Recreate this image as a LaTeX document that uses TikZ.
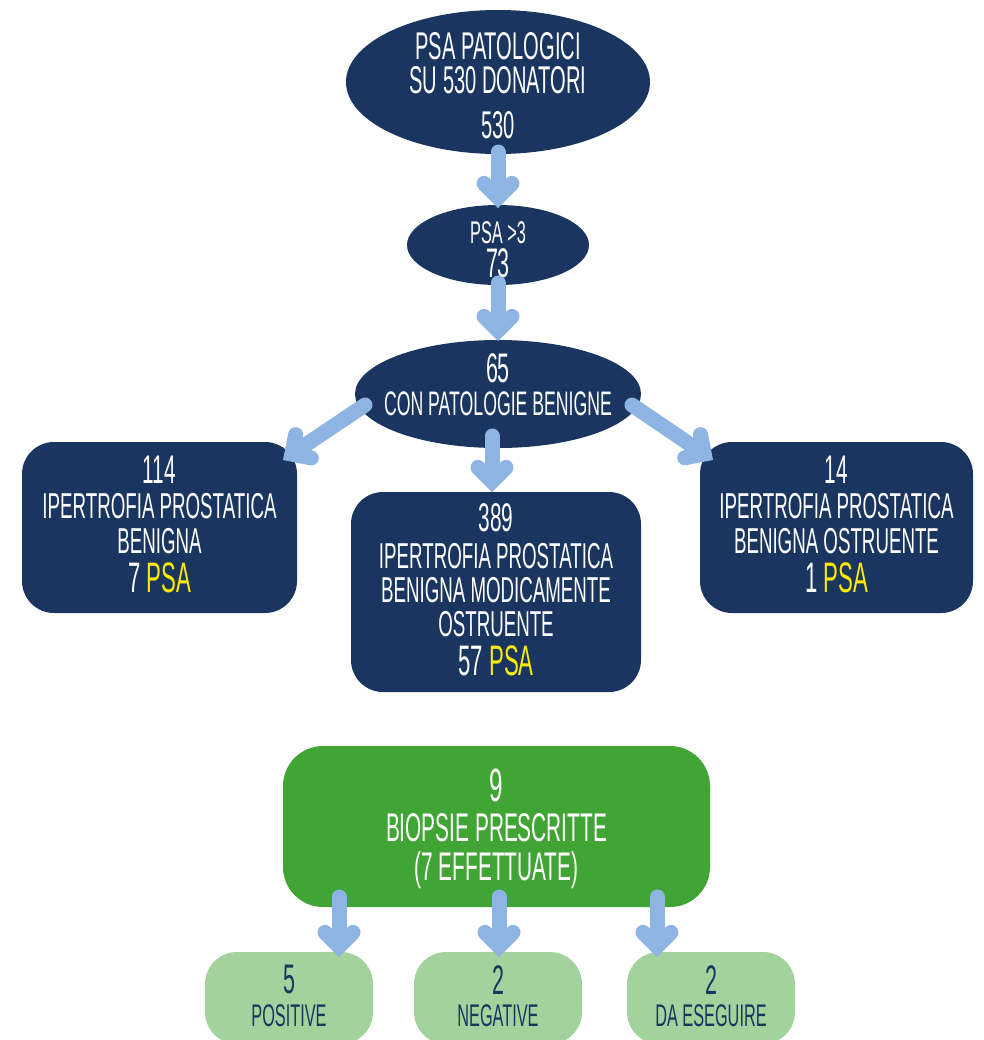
\documentclass[tikz,border=0pt]{standalone}
\usepackage{fontspec}
\setmainfont{Liberation Sans}[FakeStretch=0.52]
\usetikzlibrary{arrows.meta,shapes.geometric,calc}
\definecolor{navy}{HTML}{1A3560}
\definecolor{arrowc}{HTML}{8DB4E2}
\definecolor{ylw}{HTML}{FFEB00}
\definecolor{grn}{HTML}{41A535}
\definecolor{lgrn}{HTML}{A2D39C}
\tikzset{
  oval/.style={ellipse, fill=navy, draw=none, inner sep=0pt, outer sep=0pt},
  navybox/.style={rectangle, rounded corners=24pt, fill=navy, draw=none, inner sep=0pt, outer sep=0pt, minimum height=128.25pt},
  greenbox/.style={rectangle, rounded corners=30pt, fill=grn, draw=none, inner sep=0pt, outer sep=0pt, minimum width=320.25pt, minimum height=120.75pt},
  lightbox/.style={rectangle, rounded corners=24pt, fill=lgrn, draw=none, inner sep=0pt, outer sep=0pt, minimum width=126pt, minimum height=69pt},
  txt/.style={inner sep=0pt, outer sep=0pt, align=center, anchor=north, text=white},
  dtxt/.style={txt, text=navy},
  arr/.style={line width=11.25pt, draw=arrowc, line cap=round,
    -{Straight Barb[length=10.5pt, width=21pt, line cap=round, line join=miter]}}
}
\begin{document}
\begin{tikzpicture}[x=0.75pt,y=-0.75pt]
\useasboundingbox (0,0) rectangle (983,1040);
% shapes
\node[oval, minimum width=228pt, minimum height=108pt] (e1) at (498,82) {};
\node[oval, minimum width=136.5pt, minimum height=60pt] (e2) at (498,245) {};
\node[oval, minimum width=214.5pt, minimum height=81pt] (e3) at (498,394) {};
\node[navybox, minimum width=206.25pt] (b1) at (159.5,527.5) {};
\node[navybox, minimum width=217.5pt, minimum height=150pt] (b2) at (496,592) {};
\node[navybox, minimum width=204.75pt] (b3) at (836.5,527.5) {};
\node[greenbox] (g) at (496.5,826.5) {};
\node[lightbox] (s1) at (289,998) {};
\node[lightbox] (s2) at (498,998) {};
\node[lightbox] (s3) at (711,998) {};
% texts
\node[txt, font=\fontsize{29}{25.5}\selectfont] (e1t) at (498,32.2)
  {PSA PATOLOGICI\\SU 530 DONATORI\\[8.25pt]530};
\node[txt, font=\fontsize{23.5}{25.2}\selectfont] (e2t) at (498,221.8)
  {PSA >3\\{\fontsize{31}{31}\selectfont 73}};
\node[txt, font=\fontsize{25.5}{25}\selectfont] (e3t) at (498,353.2)
  {{\fontsize{31}{31}\selectfont 65}\\CON PATOLOGIE BENIGNE};
\node[txt, font=\fontsize{27}{26.5}\selectfont] (b1t) at (159.5,455.7)
  {{\fontsize{30}{30}\selectfont 114}\\[0.2pt]IPERTROFIA PROSTATICA\\[-0.25pt]BENIGNA\\[2.3pt]{\fontsize{32}{32}\selectfont 7 \textcolor{ylw}{PSA}}};
\node[txt, font=\fontsize{27}{25.5}\selectfont] (b2t) at (496,503.7)
  {{\fontsize{30}{30}\selectfont 389}\\[1.95pt]IPERTROFIA PROSTATICA\\BENIGNA MODICAMENTE\\OSTRUENTE\\[4.05pt]{\fontsize{32}{32}\selectfont 57 \textcolor{ylw}{PSA}}};
\node[txt, font=\fontsize{27}{26.5}\selectfont] (b3t) at (836.5,455.7)
  {{\fontsize{30}{30}\selectfont 14}\\[0.2pt]IPERTROFIA PROSTATICA\\[-0.25pt]BENIGNA OSTRUENTE\\[2.3pt]{\fontsize{32}{32}\selectfont 1 \textcolor{ylw}{PSA}}};
\node[txt, font=\fontsize{30}{29.25}\selectfont] (gt) at (496.5,769.3)
  {{\fontsize{35}{35}\selectfont 9}\\[0.45pt]BIOPSIE PRESCRITTE\\(7 EFFETTUATE)};
\node[dtxt, font=\fontsize{23.5}{24.3}\selectfont] (s1t) at (289,965.2)
  {{\fontsize{31}{31}\selectfont 5}\\POSITIVE};
\node[dtxt, font=\fontsize{23.5}{24.3}\selectfont] (s2t) at (498,965.2)
  {{\fontsize{31}{31}\selectfont 2}\\NEGATIVE};
\node[dtxt, font=\fontsize{23.5}{24.3}\selectfont] (s3t) at (711,965.2)
  {{\fontsize{31}{31}\selectfont 2}\\DA ESEGUIRE};
% connectors
\draw[arr] ($(e1.south)+(0,-2)$) -- ($(e2.north)+(0,3)$);
\draw[arr] ($(e2.south)+(0,-2)$) -- ($(e3.north)+(0,1)$);
\draw[arr] ($(e3.center)+(-133,11)$) -- ($(b1.north east)+(-14,18)$);
\draw[arr] ($(e3.south)+(-6,-12)$) -- ($(b2.north)+(-4,0)$);
\draw[arr] ($(e3.center)+(134,11)$) -- ($(b3.north west)+(13,18)$);
\draw[arr] ($(g.south)+(-157.5,-10)$) -- ($(s1.north)+(50,5)$);
\draw[arr] ($(g.south)+(2.5,-10)$) -- ($(s2.north)+(1,5)$);
\draw[arr] ($(g.south)+(160.5,-10)$) -- ($(s3.north)+(-54,5)$);
\end{tikzpicture}
\end{document}
